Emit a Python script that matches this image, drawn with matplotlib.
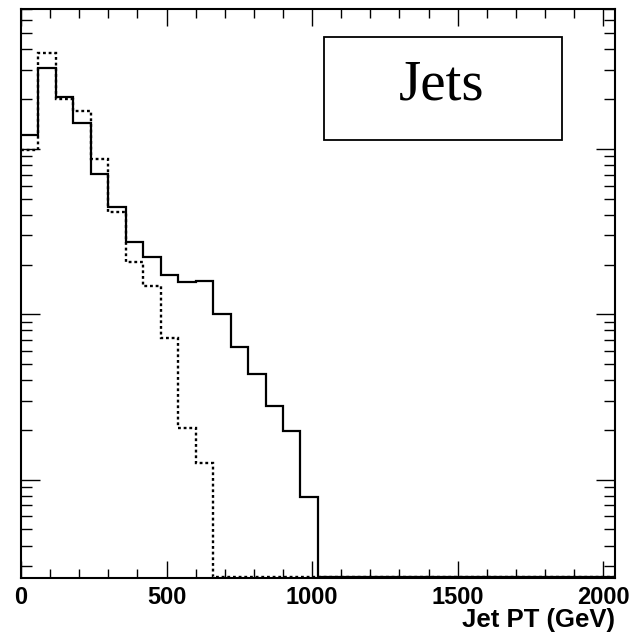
import numpy as np
import matplotlib
matplotlib.use("Agg")
import matplotlib.pyplot as plt
from matplotlib.patches import Rectangle
from matplotlib.ticker import MultipleLocator, NullFormatter, LogLocator

# ── Data ────────────────────────────────────────────────────────────────────
# 34 bins of 60 GeV from 0 to 2040 GeV
BIN_EDGES = np.arange(0, 2041, 60)

SOLID = [121.9, 307.0, 207.0, 142.8, 70.5, 44.7, 27.2, 22.1, 17.3, 15.6,
         15.9, 10.0, 6.31, 4.37, 2.80, 1.98, 0.79,
         0, 0, 0, 0, 0, 0, 0, 0, 0, 0, 0, 0, 0, 0, 0, 0, 0]
DOTTED = [98.5, 381.6, 199.5, 169.4, 86.5, 41.7, 20.8, 14.8, 7.16, 2.05,
          1.26, 0, 0, 0, 0, 0, 0,
          0, 0, 0, 0, 0, 0, 0, 0, 0, 0, 0, 0, 0, 0, 0, 0, 0]

X_TICKS = [0, 500, 1000, 1500, 2000]
Y_MIN, Y_MAX = 0.2556, 701.0

# ── Figure ──────────────────────────────────────────────────────────────────
fig = plt.figure(figsize=(6.32, 6.36), dpi=100)
ax = fig.add_axes([0.0332, 0.0917, 0.9398, 0.8941])
ax.set_yscale("log")
ax.set_xlim(0, 2040)
ax.set_ylim(Y_MIN, Y_MAX)

floor = Y_MIN * 1.015  # empty bins sit on the bottom of the frame
dotted = np.where(np.array(DOTTED) > 0, DOTTED, floor)
solid = np.where(np.array(SOLID) > 0, SOLID, floor)

ax.stairs(dotted, BIN_EDGES, baseline=None, color="black", linewidth=1.7,
          linestyle=(0, (1.2, 1.2)))
ax.stairs(solid, BIN_EDGES, baseline=None, color="black", linewidth=1.6)

for s in ax.spines.values():
    s.set_linewidth(1.5)

ax.xaxis.set_major_locator(MultipleLocator(500))
ax.xaxis.set_minor_locator(MultipleLocator(100))
ax.set_xticks(X_TICKS)
ax.set_xticklabels([str(t) for t in X_TICKS], fontsize=17, fontweight="bold",
                   family="Liberation Sans")
ax.yaxis.set_major_locator(LogLocator(base=10))
ax.yaxis.set_minor_locator(LogLocator(base=10, subs=np.arange(2, 10)))
ax.yaxis.set_major_formatter(NullFormatter())
ax.yaxis.set_minor_formatter(NullFormatter())

ax.tick_params(axis="x", which="major", direction="in", length=12, width=1,
               top=True, pad=6)
ax.tick_params(axis="x", which="minor", direction="in", length=6.3, width=1,
               top=True)
ax.tick_params(axis="y", which="major", direction="in", length=13.7, width=1,
               right=True)
ax.tick_params(axis="y", which="minor", direction="in", length=7.7, width=1,
               right=True)

ax.set_xlabel("Jet PT (GeV)", fontsize=18.5, fontweight="bold",
              family="Liberation Sans", loc="right", labelpad=-1)

# title box
fig.add_artist(Rectangle((0.5127, 0.7799), 0.377, 0.1624, transform=fig.transFigure,
                         facecolor="white", edgecolor="black", linewidth=1.3))
fig.text(0.699, 0.8428, "Jets", fontsize=41, family="Liberation Serif",
         ha="center", va="baseline")

fig.savefig("out.png", dpi=100)
